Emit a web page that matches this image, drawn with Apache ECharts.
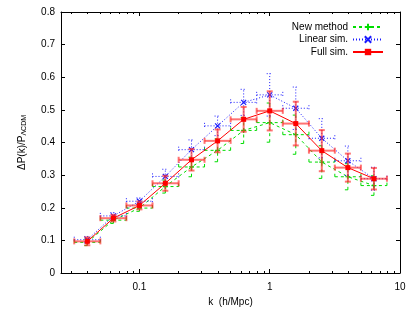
<!DOCTYPE html>
<html><head><meta charset="utf-8">
<script src="https://cdn.jsdelivr.net/npm/echarts@6/dist/echarts.min.js"></script>
<style>html,body{margin:0;padding:0;background:#fff}#c{width:415px;height:312px}</style>
</head><body><div id="c"></div>
<script>
// k bin centres and bin edges (h/Mpc)
const kCenters = [0.0398, 0.0631, 0.1, 0.158, 0.251, 0.398, 0.631, 1.0, 1.585, 2.51, 3.98, 6.31];
const kEdges = [0.0316, 0.0501, 0.0794, 0.126, 0.2, 0.316, 0.501, 0.794, 1.26, 2.0, 3.16, 5.01, 7.94];

const seriesNames = ['New method', 'Linear sim.', 'Full sim.'];
const newMethod    = [0.094, 0.162, 0.199, 0.265, 0.325, 0.376, 0.437, 0.461, 0.424, 0.340, 0.295, 0.268];
const newMethodErr = [0.010, 0.010, 0.010, 0.020, 0.030, 0.035, 0.040, 0.060, 0.060, 0.050, 0.040, 0.030];
const linearSim    = [0.102, 0.175, 0.220, 0.296, 0.378, 0.451, 0.523, 0.546, 0.505, 0.413, 0.344, 0.289];
const linearSimErr = [0.010, 0.010, 0.010, 0.022, 0.030, 0.030, 0.040, 0.065, 0.065, 0.060, 0.045, 0.035];
const fullSim      = [0.097, 0.168, 0.207, 0.275, 0.347, 0.405, 0.471, 0.497, 0.458, 0.375, 0.323, 0.289];
const fullSimErr   = [0.012, 0.010, 0.012, 0.023, 0.033, 0.035, 0.038, 0.060, 0.067, 0.063, 0.043, 0.033];

const xMajorLabels = [0.1, 1, 10];
const xMinorTicks = [0.03,0.04,0.05,0.06,0.07,0.08,0.09,0.2,0.3,0.4,0.5,0.6,0.7,0.8,0.9,2,3,4,5,6,7,8,9];
const xMin = 0.025, xMax = 10;
const yMin = 0, yMax = 0.8, yStep = 0.1;

const FONT = 'Liberation Sans';
const styles = [
  {color: '#00dd00', dash: [3, 3], barColor: '#00dd00', barWidth: 1, symbol: 'path://M0,5L10,5M5,0L5,10', size: 5},
  {color: '#1a1aff', dash: [1, 2], barColor: '#1a1aff', barWidth: 1, symbol: 'path://M0,0L10,10M10,0L0,10', size: 5},
  {color: '#ff0000', dash: null, barColor: 'rgba(255,40,40,0.65)', barWidth: 2, symbol: 'rect', size: 5}
];
const values = [newMethod, linearSim, fullSim];
const errs = [newMethodErr, linearSimErr, fullSimErr];

function errorSeries(si) {
  const st = styles[si];
  const data = kCenters.map((k, i) => [k, values[si][i], kEdges[i], kEdges[i + 1], values[si][i] - errs[si][i], values[si][i] + errs[si][i]]);
  return {
    type: 'custom', name: seriesNames[si] + ' err', z: 2 + si * 2,
    xAxisIndex: 0, yAxisIndex: 0, silent: true,
    data: data,
    renderItem: function (params, api) {
      const c = api.coord([api.value(0), api.value(1)]);
      const xl = api.coord([api.value(2), api.value(1)]);
      const xr = api.coord([api.value(3), api.value(1)]);
      const yl = api.coord([api.value(0), api.value(4)]);
      const yh = api.coord([api.value(0), api.value(5)]);
      const cap = 3;
      const style = {stroke: st.barColor, lineWidth: st.barWidth, lineDash: st.dash, fill: null};
      const seg = (x1, y1, x2, y2) => ({type: 'line', shape: {x1, y1, x2, y2}, style: style});
      return {type: 'group', children: [
        seg(xl[0], c[1], xr[0], c[1]),
        seg(xl[0], c[1] - cap, xl[0], c[1] + cap),
        seg(xr[0], c[1] - cap, xr[0], c[1] + cap),
        seg(c[0], yl[1], c[0], yh[1]),
        seg(c[0] - cap, yl[1], c[0] + cap, yl[1]),
        seg(c[0] - cap, yh[1], c[0] + cap, yh[1])
      ]};
    }
  };
}

function lineSeries(si) {
  const st = styles[si];
  return {
    type: 'line', name: seriesNames[si], z: 3 + si * 2,
    xAxisIndex: 0, yAxisIndex: 0,
    data: kCenters.map((k, i) => [k, values[si][i]]),
    symbol: st.symbol, symbolSize: st.size, showSymbol: true,
    lineStyle: {color: st.color, width: 1, type: st.dash ? st.dash : 'solid'},
    itemStyle: {color: st.symbol === 'rect' ? st.color : 'rgba(0,0,0,0)', borderColor: st.color, borderWidth: st.symbol === 'rect' ? 0 : 1.2},
    emphasis: {disabled: true},
    animation: false
  };
}

const logMin = Math.log10(xMin), logMax = Math.log10(xMax);
const axisLineStyle = {color: '#000', width: 1};

const chart = echarts.init(document.getElementById('c'), null, {renderer: 'canvas'});
chart.setOption({
  animation: false,
  backgroundColor: '#fff',
  grid: {left: 61, right: 15, top: 12, bottom: 35, containLabel: false},
  legend: {
    data: seriesNames, orient: 'vertical', right: 26, top: 17, align: 'right',
    itemWidth: 30, itemHeight: 8, itemGap: 2.5,
    textStyle: {fontFamily: FONT, fontSize: 10, color: '#000', lineHeight: 10},
    selectedMode: false
  },
  xAxis: [
    { type: 'log', logBase: 10, min: xMin, max: xMax, position: 'bottom',
      name: 'k  (h/Mpc)', nameLocation: 'middle', nameGap: 24,
      nameTextStyle: {fontFamily: FONT, fontSize: 10, color: '#000'},
      axisLine: {show: true, onZero: false, lineStyle: axisLineStyle},
      axisTick: {show: true, inside: true, length: 4, lineStyle: axisLineStyle},
      axisLabel: {fontFamily: FONT, fontSize: 10, color: '#000', margin: 9,
        formatter: v => (xMajorLabels.some(m => Math.abs(m - v) < 1e-9) ? String(v) : '')},
      splitLine: {show: false} },
    { type: 'log', logBase: 10, min: xMin, max: xMax, position: 'top',
      axisLine: {show: true, onZero: false, lineStyle: axisLineStyle},
      axisTick: {show: true, inside: true, length: 4, lineStyle: axisLineStyle},
      axisLabel: {show: false}, splitLine: {show: false} },
    { type: 'value', min: logMin, max: logMax, position: 'bottom',
      axisLine: {show: false, onZero: false},
      axisTick: {show: true, inside: true, length: 2, lineStyle: axisLineStyle, customValues: xMinorTicks.map(Math.log10)},
      axisLabel: {show: false}, splitLine: {show: false} },
    { type: 'value', min: logMin, max: logMax, position: 'top',
      axisLine: {show: false, onZero: false},
      axisTick: {show: true, inside: true, length: 2, lineStyle: axisLineStyle, customValues: xMinorTicks.map(Math.log10)},
      axisLabel: {show: false}, splitLine: {show: false} }
  ],
  yAxis: [
    { type: 'value', min: yMin, max: yMax, interval: yStep, position: 'left',
      name: '{a|ΔP(k)/P}{s|ΛCDM}', nameLocation: 'middle', nameGap: 33, nameRotate: 90,
      nameTextStyle: {fontFamily: FONT, fontSize: 10, color: '#000',
        rich: {a: {fontFamily: FONT, fontSize: 10, color: '#000'}, s: {fontFamily: FONT, fontSize: 7, color: '#000', padding: [5, 0, 0, 0]}}},
      axisLine: {show: true, onZero: false, lineStyle: axisLineStyle},
      axisTick: {show: true, inside: true, length: 4, lineStyle: axisLineStyle},
      axisLabel: {fontFamily: FONT, fontSize: 10, color: '#000', margin: 6,
        formatter: v => (Math.abs(v) < 1e-9 ? '0' : v.toFixed(1))},
      splitLine: {show: false} },
    { type: 'value', min: yMin, max: yMax, interval: yStep, position: 'right',
      axisLine: {show: true, onZero: false, lineStyle: axisLineStyle},
      axisTick: {show: true, inside: true, length: 4, lineStyle: axisLineStyle},
      axisLabel: {show: false}, splitLine: {show: false} }
  ],
  series: [errorSeries(0), lineSeries(0), errorSeries(1), lineSeries(1), errorSeries(2), lineSeries(2)]
});
</script>
</body></html>
